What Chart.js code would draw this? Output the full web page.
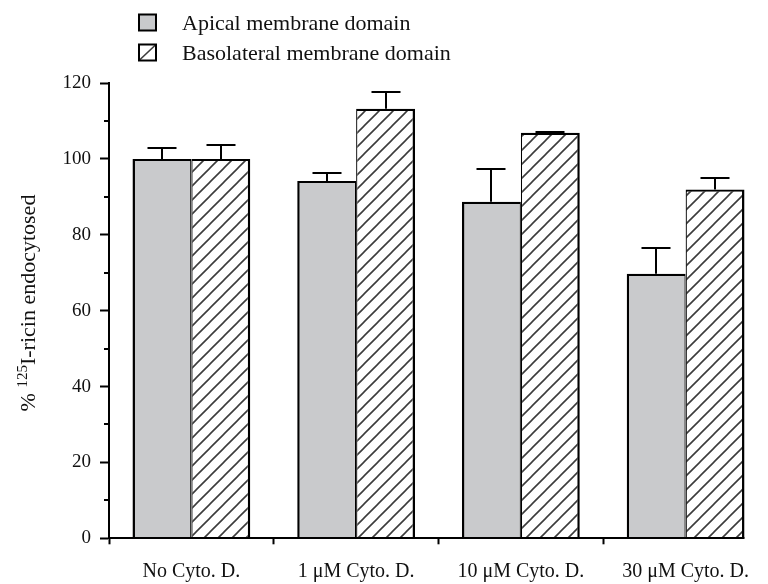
<!DOCTYPE html>
<html><head><meta charset="utf-8">
<script src="https://cdn.jsdelivr.net/npm/chart.js@4/dist/chart.umd.min.js"></script>
<style>html,body{margin:0;padding:0;background:#fff}canvas{display:block}</style>
</head><body>
<canvas id="c" width="768" height="584"></canvas>
<script>
// ---- data ----
const categories = ['No Cyto. D.', '1 \u03bcM Cyto. D.', '10 \u03bcM Cyto. D.', '30 \u03bcM Cyto. D.'];
const seriesNames = ['Apical membrane domain', 'Basolateral membrane domain'];
const apicalValues = [100, 94.2, 88.7, 69.7];
const apicalErrors = [2.9, 2.1, 8.7, 6.8];
const basolateralValues = [100, 113.2, 106.9, 91.9];
const basolateralErrors = [3.6, 4.5, 0.3, 3.1];
const yMin = 0, yMax = 120, yMajorStep = 20, yMinorStep = 10;
const yTitleParts = ['% ', '125', 'I-ricin endocytosed'];

const FONT = "'Liberation Serif', 'Times New Roman', serif";
const GRAY = '#c9cacc';
const HATCH_INK = '#3c3c3c';

function makeHatch() {
  const s = 14;
  const c = document.createElement('canvas');
  c.width = s; c.height = s;
  const g = c.getContext('2d');
  g.fillStyle = '#fff'; g.fillRect(0, 0, s, s);
  g.strokeStyle = HATCH_INK; g.lineWidth = 1.6;
  g.beginPath();
  g.moveTo(0, s); g.lineTo(s, 0);
  g.moveTo(-2, 2); g.lineTo(2, -2);
  g.moveTo(s - 2, s + 2); g.lineTo(s + 2, s - 2);
  g.stroke();
  return g.createPattern(c, 'repeat');
}
const HATCH = makeHatch();

const errorBarsPlugin = {
  id: 'errorBars',
  afterDatasetsDraw(chart) {
    const ctx = chart.ctx, ys = chart.scales.y;
    ctx.save();
    ctx.strokeStyle = '#000'; ctx.lineWidth = 2;
    chart.data.datasets.forEach((ds, i) => {
      const meta = chart.getDatasetMeta(i);
      meta.data.forEach((bar, j) => {
        const v = ds.data[j], e = ds.errors[j];
        const x = Math.round(bar.x);
        const yTop = ys.getPixelForValue(v);
        const yCap = Math.round(ys.getPixelForValue(v + e));
        ctx.beginPath();
        ctx.moveTo(x, yTop); ctx.lineTo(x, yCap);
        ctx.moveTo(x - 14.5, yCap); ctx.lineTo(x + 14.5, yCap);
        ctx.stroke();
      });
    });
    // x axis line from y axis to right edge of last bar
    const lastMeta = chart.getDatasetMeta(chart.data.datasets.length - 1);
    const lastBar = lastMeta.data[lastMeta.data.length - 1];
    const y0 = Math.round(ys.getPixelForValue(yMin));
    ctx.beginPath();
    ctx.moveTo(chart.chartArea.left - 1, y0);
    ctx.lineTo(lastBar.x + lastBar.width / 2, y0);
    ctx.stroke();
    // minor y ticks
    for (let v = yMin + yMinorStep; v < yMax; v += yMajorStep) {
      const y = Math.round(ys.getPixelForValue(v));
      ctx.beginPath();
      ctx.moveTo(chart.chartArea.left - 5, y);
      ctx.lineTo(chart.chartArea.left, y);
      ctx.stroke();
    }
    ctx.restore();
  }
};

const annotPlugin = {
  id: 'annot',
  afterDraw(chart) {
    const ctx = chart.ctx;
    ctx.save();
    // legend
    const boxY = [14.5, 44.5], baseY = [29.5, 60];
    chart.data.datasets.forEach((ds, i) => {
      const bx = 139, by = boxY[i], bw = 17, bh = 16;
      if (i === 0) {
        ctx.fillStyle = ds.backgroundColor;
        ctx.fillRect(bx, by, bw, bh);
      } else {
        ctx.fillStyle = '#fff';
        ctx.fillRect(bx, by, bw, bh);
        ctx.strokeStyle = HATCH_INK; ctx.lineWidth = 1.6;
        ctx.beginPath(); ctx.moveTo(bx, by + bh); ctx.lineTo(bx + bw, by); ctx.stroke();
      }
      ctx.strokeStyle = '#000'; ctx.lineWidth = 2;
      ctx.strokeRect(bx, by, bw, bh);
      ctx.fillStyle = '#111';
      ctx.font = '22px ' + FONT;
      ctx.textAlign = 'left'; ctx.textBaseline = 'alphabetic';
      ctx.fillText(ds.label, 182, baseY[i]);
    });
    // y title with superscript
    const mainFont = '22px ' + FONT, supFont = '15px ' + FONT;
    ctx.font = mainFont; const w0 = ctx.measureText(yTitleParts[0]).width;
    const w2 = ctx.measureText(yTitleParts[2]).width;
    ctx.font = supFont; const w1 = ctx.measureText(yTitleParts[1]).width;
    const total = w0 + w1 + w2;
    ctx.translate(35, 303);
    ctx.rotate(-Math.PI / 2);
    ctx.fillStyle = '#111'; ctx.textAlign = 'left'; ctx.textBaseline = 'alphabetic';
    let x = -total / 2;
    ctx.font = mainFont; ctx.fillText(yTitleParts[0], x, 0); x += w0;
    ctx.font = supFont; ctx.fillText(yTitleParts[1], x, -8); x += w1;
    ctx.font = mainFont; ctx.fillText(yTitleParts[2], x, 0);
    ctx.restore();
  }
};

new Chart(document.getElementById('c'), {
  type: 'bar',
  data: {
    labels: categories,
    datasets: [
      { label: seriesNames[0], data: apicalValues, errors: apicalErrors,
        backgroundColor: GRAY, borderColor: '#000',
        borderWidth: { top: 2.2, left: 2.5, right: 1.25, bottom: 0 }, borderSkipped: false,
        barPercentage: 1, categoryPercentage: 0.715 },
      { label: seriesNames[1], data: basolateralValues, errors: basolateralErrors,
        backgroundColor: HATCH, borderColor: '#000',
        borderWidth: { top: 2.2, left: 1.25, right: 2.5, bottom: 0 }, borderSkipped: false,
        barPercentage: 1, categoryPercentage: 0.715 }
    ]
  },
  options: {
    responsive: false, animation: false, devicePixelRatio: 1,
    layout: { padding: { top: 83, left: 0, right: 0, bottom: 0 } },
    plugins: { legend: { display: false }, tooltip: { enabled: false }, title: { display: false } },
    scales: {
      x: {
        offset: true,
        grid: { display: true, offset: true, drawOnChartArea: false, tickLength: 6, tickWidth: 2,
                tickColor: c => c.type === 'tick' ? '#000' : 'rgba(0,0,0,0)' },
        border: { display: false },
        ticks: { font: { family: FONT, size: 20 }, color: '#111', padding: 15, maxRotation: 0, autoSkip: false },
        afterFit: s => { s.height = 45.7; }
      },
      y: {
        min: yMin, max: yMax,
        ticks: { stepSize: yMajorStep, font: { family: FONT, size: 19 }, color: '#111', padding: 9 },
        grid: { drawOnChartArea: false, tickLength: 9, tickWidth: 2, tickColor: '#000' },
        border: { display: true, color: '#000', width: 2 },
        afterFit: s => { s.width = 109; }
      }
    }
  },
  plugins: [errorBarsPlugin, annotPlugin]
});
</script>
</body></html>
